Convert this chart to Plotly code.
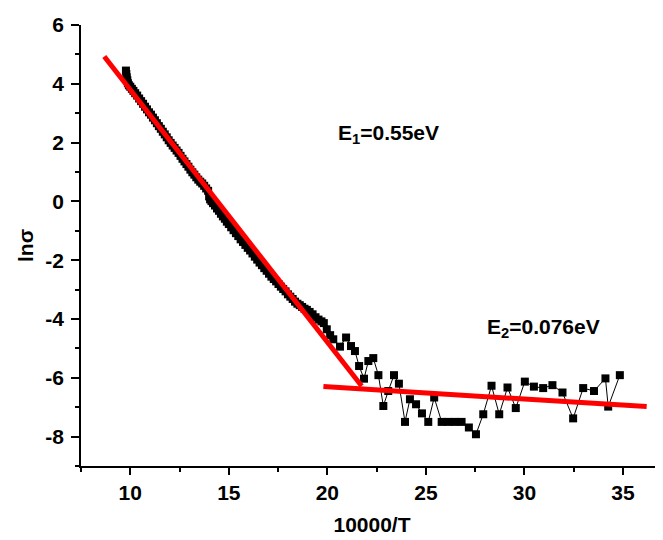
import plotly.graph_objects as go

# Measured data: ln(sigma) vs 10000/T
x_dense = [9.78, 9.80, 9.82, 9.85, 9.88, 9.93, 10.00, 10.08, 10.16, 10.25, 10.35, 10.45,
           10.55, 10.65, 10.75, 10.85, 10.95, 11.05, 11.15, 11.25, 11.35, 11.45, 11.55,
           11.65, 11.75, 11.85, 11.95, 12.05, 12.15, 12.25, 12.35, 12.45, 12.55, 12.65,
           12.75, 12.85, 12.95, 13.05, 13.15, 13.25, 13.35, 13.45, 13.55, 13.65, 13.75,
           13.85, 13.95, 14.00, 14.05, 14.12, 14.20, 14.30, 14.40, 14.50, 14.60, 14.70,
           14.80, 14.90, 15.00, 15.12, 15.24, 15.36, 15.48, 15.60, 15.72, 15.84, 15.96,
           16.08, 16.20, 16.32, 16.44, 16.56, 16.68, 16.80, 16.92, 17.04, 17.16, 17.28,
           17.40, 17.52, 17.64, 17.76, 17.88, 18.00, 18.12, 18.24, 18.36, 18.48, 18.60,
           18.72, 18.84, 18.96, 19.10, 19.25, 19.40, 19.55, 19.70, 19.82, 19.97, 20.14]
y_dense = [4.45, 4.33, 4.22, 4.12, 4.02, 3.95, 3.90, 3.83, 3.76, 3.68, 3.60, 3.50,
           3.41, 3.32, 3.22, 3.13, 3.03, 2.95, 2.85, 2.76, 2.66, 2.56, 2.47,
           2.37, 2.28, 2.18, 2.08, 1.99, 1.90, 1.82, 1.73, 1.65, 1.55, 1.45,
           1.36, 1.27, 1.18, 1.08, 0.99, 0.91, 0.82, 0.74, 0.67, 0.61, 0.53,
           0.44, 0.36, 0.17, 0.07, 0.01, -0.06, -0.14, -0.24, -0.32, -0.42, -0.51,
           -0.59, -0.69, -0.77, -0.88, -0.98, -1.08, -1.18, -1.29, -1.38, -1.48, -1.58,
           -1.67, -1.77, -1.88, -1.98, -2.08, -2.17, -2.27, -2.36, -2.46, -2.56, -2.64,
           -2.72, -2.81, -2.90, -2.98, -3.06, -3.16, -3.24, -3.32, -3.41, -3.48, -3.53,
           -3.59, -3.65, -3.69, -3.76, -3.84, -3.94, -4.02, -4.08, -4.14, -4.35, -4.55]
x_sparse = [20.30, 20.64, 20.95, 21.20, 21.40, 21.61, 21.86, 22.08, 22.33, 22.59, 22.84,
            23.09, 23.38, 23.63, 23.94, 24.19, 24.50, 24.80, 25.12, 25.42, 25.80, 26.13,
            26.47, 26.81, 27.18, 27.54, 27.91, 28.33, 28.72, 29.14, 29.56, 30.02, 30.48,
            30.95, 31.42, 31.93, 32.47, 32.98, 33.53, 34.11, 34.25, 34.84]
y_sparse = [-4.69, -4.94, -4.63, -4.92, -5.09, -5.60, -6.03, -5.43, -5.33, -5.91, -6.96,
            -6.45, -5.91, -6.20, -7.50, -6.73, -6.90, -7.21, -7.50, -6.67, -7.50, -7.50,
            -7.50, -7.50, -7.69, -7.92, -7.24, -6.27, -7.24, -6.33, -7.03, -6.13, -6.30,
            -6.35, -6.25, -6.50, -7.38, -6.35, -6.45, -6.02, -6.98, -5.91]

# Linear fits (red lines)
fit1_x = [8.68, 21.74]
fit1_y = [4.93, -6.28]
fit2_x = [19.80, 36.20]
fit2_y = [-6.30, -6.98]

# Tick labels
x_tickvals = [10, 15, 20, 25, 30, 35]
x_ticktext = ["10", "15", "20", "25", "30", "35"]
y_tickvals = [-8, -6, -4, -2, 0, 2, 4, 6]
y_ticktext = ["-8", "-6", "-4", "-2", "0", "2", "4", "6"]

label_e1 = "E<sub>1</sub>=0.55eV"
label_e2 = "E<sub>2</sub>=0.076eV"

FONT = "Liberation Sans, Arial, sans-serif"

fig = go.Figure()
fig.add_trace(go.Scatter(
    x=x_dense + x_sparse, y=y_dense + y_sparse, mode="lines+markers",
    line=dict(color="black", width=1),
    marker=dict(symbol="square", size=8, color="black", line=dict(width=0)),
    showlegend=False))
fig.add_trace(go.Scatter(x=fit1_x, y=fit1_y, mode="lines",
                         line=dict(color="#ff0000", width=5), showlegend=False))
fig.add_trace(go.Scatter(x=fit2_x, y=fit2_y, mode="lines",
                         line=dict(color="#ff0000", width=5), showlegend=False))

fig.add_annotation(x=20.44, y=2.3, xref="x", yref="y", text=label_e1, showarrow=False,
                   xanchor="left", yanchor="middle",
                   font=dict(family=FONT, size=21, color="black", weight="bold"))
fig.add_annotation(x=28.0, y=-4.3, xref="x", yref="y", text=label_e2, showarrow=False,
                   xanchor="left", yanchor="middle",
                   font=dict(family=FONT, size=21, color="black", weight="bold"))

axis_common = dict(
    showline=True, linecolor="black", linewidth=1.5, mirror=False,
    showgrid=False, zeroline=False, ticks="outside", tickcolor="black",
    tickwidth=1.5, automargin=False,
    tickfont=dict(family=FONT, size=21, color="black", weight="bold"),
)

# The page body has an 8px default margin, so the figure is sized to fit the window.
fig.update_layout(
    width=655, height=532,
    margin=dict(l=73, r=0, t=17, b=74),
    plot_bgcolor="white", paper_bgcolor="white",
    showlegend=False,
    xaxis=dict(
        range=[7.5, 37.03], tickmode="array", tickvals=x_tickvals, ticktext=x_ticktext,
        ticklen=7,
        minor=dict(dtick=2.5, tick0=7.5, ticklen=4, tickwidth=1.5, tickcolor="black",
                   ticks="outside", showgrid=False),
        title=dict(text="10000/T", standoff=14,
                   font=dict(family=FONT, size=21, color="black", weight="bold")),
        **axis_common),
    yaxis=dict(
        range=[-9, 6], tickmode="array", tickvals=y_tickvals, ticktext=y_ticktext,
        ticklen=8, ticklabelstandoff=3,
        minor=dict(dtick=1, tick0=-9, ticklen=4, tickwidth=1.5, tickcolor="black",
                   ticks="outside", showgrid=False),
        title=dict(text="lnσ", standoff=6,
                   font=dict(family=FONT, size=21, color="black", weight="bold")),
        **axis_common),
)

fig.write_html("out.html")
